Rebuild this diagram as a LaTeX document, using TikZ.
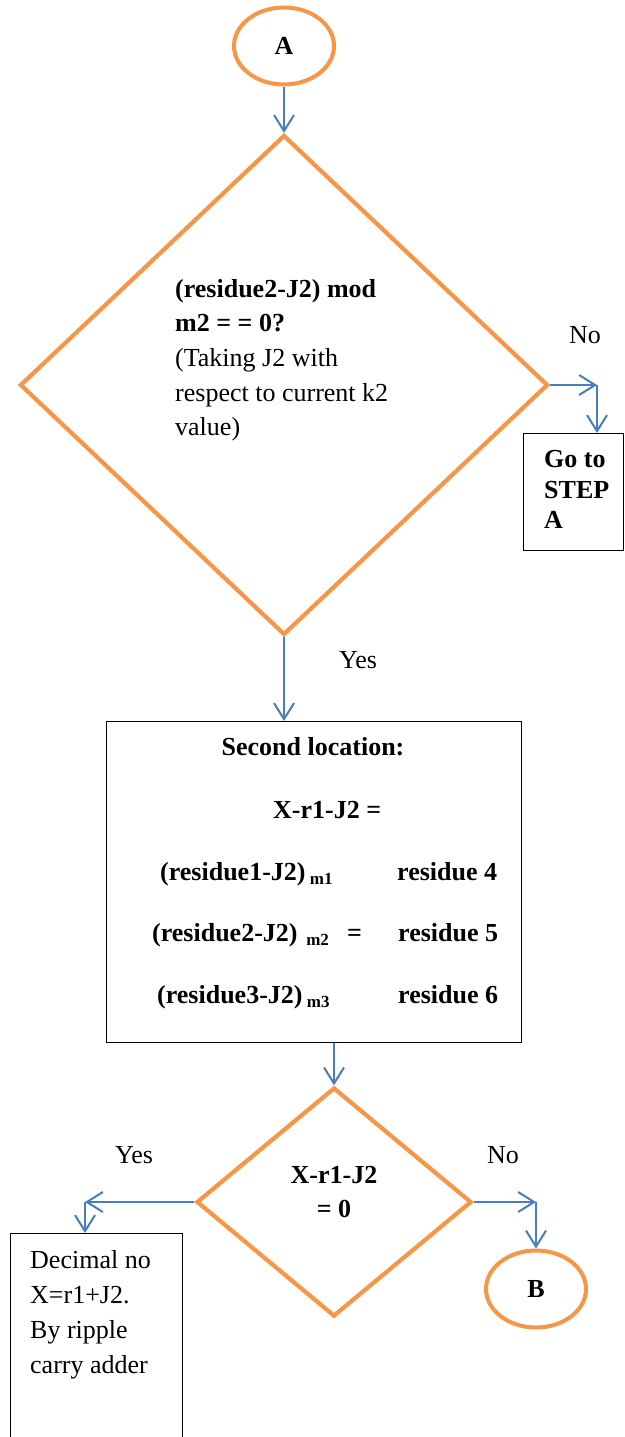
\documentclass[tikz,border=0pt]{standalone}
\usepackage{fontspec}
\setmainfont{Liberation Serif}
\usetikzlibrary{arrows.meta,shapes.geometric}
\definecolor{orng}{HTML}{F79646}
\definecolor{blu}{HTML}{4A7EBB}
\begin{document}
\begin{tikzpicture}[x=1pt,y=-1pt,
  term/.style={ellipse, draw=orng, line width=4pt, minimum width=100pt, minimum height=77pt, inner sep=0pt, font=\fontsize{26}{30}\selectfont\bfseries},
  dec/.style={diamond, draw=orng, line width=4.2pt, inner sep=0pt},
  procbox/.style={draw=black, line width=1.2pt, inner sep=0pt, anchor=north west},
  conn/.style={draw=blu, line width=2pt, -{Straight Barb[length=16pt,width=20pt]}},
  txt/.style={inner sep=0pt, anchor=base west, font=\fontsize{26}{35}\selectfont},
  btxt/.style={inner sep=0pt, anchor=base west, font=\fontsize{26}{35}\selectfont\bfseries},
]
\useasboundingbox (0,0) rectangle (624,1437);
\fill[white] (0,0) rectangle (624,1437);
\clip (0,0) rectangle (624,1437);

% terminals
\node[term] (A) at (284,46) {A};
\node[term] (B) at (536,1289) {B};

% first decision
\node[dec, minimum width=528pt, minimum height=500pt] (d1) at (284,385) {};
\node[btxt] (q1) at (175,297) {(residue2-J2) mod};
\node[btxt] (q2) at (175,331) {m2 = = 0?};
\node[txt] (q3) at (175,366) {(Taking J2 with};
\node[txt] (q4) at (175,401) {respect to current k2};
\node[txt] (q5) at (175,435) {value)};

% go to step A box
\node[procbox, minimum width=100pt, minimum height=117pt] (go) at (523,433) {};
\node[btxt] (g1) at (544,467) {Go to};
\node[btxt] (g2) at (544,498) {STEP};
\node[btxt] (g3) at (544,528) {A};
\coordinate (c1) at (597,385);
\node[txt] (no1) at (569,343) {No};

% second location box
\node[procbox, minimum width=415pt, minimum height=321pt] (box2) at (106,721) {};
\node[btxt, anchor=base] (s1) at (313,755) {Second location:};
\node[btxt] (s2) at (273,818) {X-r1-J2 =};
\node[btxt] (s3) at (160,880) {(residue1-J2)\,\raisebox{-4pt}{\fontsize{17}{17}\selectfont m1}};
\node[btxt] (s4) at (152,941) {(residue2-J2)\,\,\raisebox{-4pt}{\fontsize{17}{17}\selectfont m2}};
\node[btxt] (s5) at (157,1003) {(residue3-J2)\,\raisebox{-4pt}{\fontsize{17}{17}\selectfont m3}};
\node[btxt] (eq) at (347,941) {=};
\node[btxt] (r4) at (397,880) {residue 4};
\node[btxt] (r5) at (398,941) {residue 5};
\node[btxt] (r6) at (398,1003) {residue 6};
\node[txt] (yes1) at (339,668) {Yes};

% second decision
\node[dec, minimum width=275pt, minimum height=229pt] (d2) at (334,1202) {};
\node[btxt, anchor=base] (x1) at (334,1183) {X-r1-J2};
\node[btxt, anchor=base] (x2) at (334,1217) {= 0};
\node[txt] (yes2) at (115,1163) {Yes};
\node[txt] (no2) at (487,1163) {No};
\coordinate (cL) at (85,1202);
\coordinate (cR) at (536,1202);

% result box
\node[procbox, minimum width=172pt, minimum height=240pt] (box3) at (10,1233) {};
\node[txt] (b1) at (30,1268) {Decimal no};
\node[txt] (b2) at (30,1303) {X=r1+J2.};
\node[txt] (b3) at (30,1338) {By ripple};
\node[txt] (b4) at (30,1373) {carry adder};

% connectors
\draw[conn] (A.south) -- (d1.north);
\draw[conn] (d1.east) -- (c1);
\draw[conn] (c1) -- (c1 |- go.north);
\draw[conn] (d1.south) -- (d1.south |- box2.north);
\draw[conn] (box2.south -| d2.north) -- (d2.north);
\draw[conn] (d2.west) -- (cL);
\draw[conn] (cL) -- (cL |- box3.north);
\draw[conn] (d2.east) -- (cR);
\draw[conn] (cR) -- (B.north);
\end{tikzpicture}
\end{document}
